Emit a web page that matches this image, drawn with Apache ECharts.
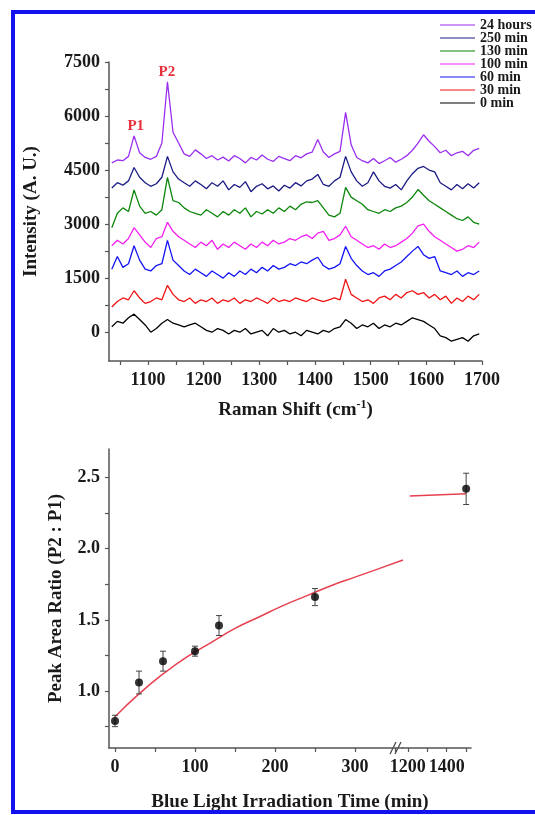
<!DOCTYPE html>
<html>
<head>
<meta charset="utf-8">
<script src="https://cdn.jsdelivr.net/npm/echarts@6/dist/echarts.min.js"></script>
<style>
  html, body { margin: 0; padding: 0; background: #fff; }
  #chart { width: 535px; height: 815px; }
</style>
</head>
<body>
<div id="chart"></div>
<script>
// Raman spectra (top panel), offset traces
const ramanShift = [
  1035, 1045, 1055, 1065, 1075, 1085, 1095, 1105, 1115, 1125,
  1135, 1145, 1155, 1165, 1175, 1185, 1195, 1205, 1215, 1225,
  1235, 1245, 1255, 1265, 1275, 1285, 1295, 1305, 1315, 1325,
  1335, 1345, 1355, 1365, 1375, 1385, 1395, 1405, 1415, 1425,
  1435, 1445, 1455, 1465, 1475, 1485, 1495, 1505, 1515, 1525,
  1535, 1545, 1555, 1565, 1575, 1585, 1595, 1605, 1615, 1625,
  1635, 1645, 1655, 1665, 1675, 1685, 1695
];
const int24h = [
  4700, 4780, 4760, 4880, 5450, 4980, 4850, 4800, 4880, 5250,
  6950, 5550, 5250, 4950, 4880, 5060, 4950, 4820, 4900, 4780,
  4860, 4750, 4900, 4820, 4700, 4850, 4780, 4920, 4800, 4740,
  4880, 4820, 4760, 4900, 4840, 4950, 5000, 5350, 5000, 4850,
  4950, 5020, 6100, 5200, 4850, 4760, 4700, 4820, 4680, 4760,
  4850, 4720, 4800, 4900, 5050, 5250, 5480, 5300, 5150, 4980,
  5050, 4900, 4980, 5020, 4900, 5050, 5100
];
const int250 = [
  4000, 4150, 4080, 4200, 4570, 4300, 4150, 4050, 4120, 4300,
  4880, 4450, 4250, 4150, 4050, 4200, 4100, 3980, 4150, 4050,
  4200, 3950, 4100, 4020, 4180, 3900, 4050, 4120, 3980, 4060,
  3920, 4080, 4000, 4150, 4060, 4200, 4250, 4380, 4100, 4050,
  4200, 4300, 4880, 4450, 4200, 4050, 4150, 4450, 4200, 4050,
  4000, 4100, 3950, 4200, 4400, 4550, 4600, 4500, 4450, 4150,
  4050, 3950, 4100, 3980, 4120, 4000, 4150
];
const int130 = [
  2900, 3300, 3450, 3350, 3950, 3500, 3300, 3350, 3250, 3400,
  4300, 3650, 3600, 3450, 3350, 3300, 3250, 3400, 3300, 3200,
  3350, 3250, 3400, 3300, 3450, 3200, 3350, 3280, 3400, 3300,
  3450, 3350, 3500, 3400, 3550, 3620, 3600, 3650, 3450, 3250,
  3200, 3300, 4020, 3750, 3650, 3550, 3400, 3350, 3300, 3400,
  3350, 3450, 3500, 3600, 3750, 3960, 3800, 3650, 3550, 3450,
  3350, 3250, 3150, 3100, 3200, 3050, 3000
];
const int100 = [
  2400, 2550, 2450, 2600, 2900, 2700, 2500, 2350, 2600, 2650,
  3050, 2800, 2650, 2550, 2450, 2350, 2500, 2400, 2550, 2300,
  2450, 2350, 2500, 2400, 2300, 2450, 2350, 2500, 2400, 2550,
  2450, 2500, 2600, 2550, 2650, 2700, 2600, 2750, 2800, 2550,
  2600, 2700, 2940, 2650, 2550, 2450, 2350, 2400, 2300, 2450,
  2350, 2400, 2500, 2600, 2750, 2950, 3000, 2800, 2650, 2550,
  2450, 2350, 2250, 2300, 2400, 2350, 2500
];
const int60 = [
  1750, 2100, 1800, 1900, 2400, 2000, 1750, 1700, 1850, 1900,
  2550, 2000, 1850, 1700, 1600, 1750, 1650, 1550, 1700, 1600,
  1500, 1650, 1550, 1700, 1600, 1750, 1650, 1800, 1700, 1850,
  1750, 1800, 1900, 1850, 1950, 1900, 2000, 2080, 1850, 1750,
  1800, 1900, 2380, 2050, 1850, 1700, 1600, 1650, 1550, 1700,
  1750, 1850, 1950, 2100, 2250, 2380, 2150, 2050, 2100, 1700,
  1650, 1600, 1700, 1550, 1650, 1600, 1700
];
const int30 = [
  700, 850, 950, 900, 1150, 950, 800, 850, 950, 900,
  1300, 1050, 900, 850, 950, 800, 900, 850, 950, 800,
  900, 850, 950, 800, 900, 850, 950, 880, 800, 950,
  850, 900, 850, 950, 900, 850, 950, 900, 850, 900,
  950, 900, 1470, 1050, 950, 850, 900, 800, 950, 1000,
  900, 1050, 950, 1100, 1150, 1050, 1100, 950, 1050, 900,
  1000, 800, 950, 850, 1000, 900, 1050
];
const int0 = [
  150, 300, 250, 400, 500, 350, 200, 0, 100, 250,
  350, 250, 200, 150, 200, 250, 150, 50, 0, 100,
  50, -50, 50, 0, 100, -50, 0, 50, -100, 100,
  0, 50, -50, 0, -100, 50, 0, -50, 50, 0,
  100, 150, 350, 250, 100, 200, 150, 250, 100, 200,
  150, 250, 200, 300, 400, 350, 300, 200, 100, -100,
  -150, -250, -200, -150, -250, -100, -50
];
const traceNames = ['24 hours', '250 min', '130 min', '100 min', '60 min', '30 min', '0 min'];
const traceValues = [int24h, int250, int130, int100, int60, int30, int0];
const traceColors = ['#9a2ff0', '#1c1c86', '#0b860b', '#f21ef2', '#1414f5', '#f01414', '#000000'];
const ramanLabels = [1100, 1200, 1300, 1400, 1500, 1600, 1700];
const ramanTicks = [1050, 1100, 1150, 1200, 1250, 1300, 1350, 1400, 1450, 1500, 1550, 1600, 1650, 1700];
const intensityLabels = [0, 1500, 3000, 4500, 6000, 7500];
const intensityTicks = [0, 750, 1500, 2250, 3000, 3750, 4500, 5250, 6000, 6750, 7500];

// Peak area ratio (bottom panel)
const timeMin = [0, 30, 60, 100, 130, 250];
const ratio = [0.79, 1.06, 1.21, 1.28, 1.46, 1.66];
const ratioErr = [0.04, 0.08, 0.07, 0.035, 0.07, 0.06];
const time24h = [1500];
const ratio24h = [2.42];
const ratioErr24h = [0.11];
const fitTime = [0, 30, 60, 90, 120, 150, 180, 210, 240, 270, 300, 330, 360];
const fitRatio = [0.82, 0.98, 1.12, 1.24, 1.34, 1.44, 1.52, 1.60, 1.67, 1.74, 1.80, 1.86, 1.92];
const fit24hTime = [1210, 1500];
const fit24hRatio = [2.37, 2.385];
const timeLabelsLeft = [0, 100, 200, 300];
const timeTicksLeft = [0, 50, 100, 150, 200, 250, 300, 350];
const timeLabelsRight = [1200, 1400];
const timeTicksRight = [1200, 1300, 1400, 1500];
const ratioLabels = [1.0, 1.5, 2.0, 2.5];
const ratioTicks = [0.75, 1.0, 1.25, 1.5, 1.75, 2.0, 2.25, 2.5];

const serif = "'Liberation Serif', 'Times New Roman', serif";
const axisColor = '#555';
const textColor = '#1a1a1a';
const fitColor = '#e6414e';

function plain(v) { return String(v); }

function axisBase(gridIndex, min, max, ticks, labels, formatter) {
  return {
    type: 'value',
    gridIndex: gridIndex,
    min: min,
    max: max,
    axisLine: { show: true, onZero: false, lineStyle: { color: axisColor, width: 1.5 } },
    axisTick: { show: true, inside: false, length: 4, customValues: ticks, lineStyle: { color: axisColor, width: 1.2 } },
    axisLabel: {
      customValues: labels, formatter: formatter || plain,
      fontFamily: serif, fontWeight: 'bold', fontSize: 18, color: textColor, margin: 9
    },
    splitLine: { show: false },
    nameTextStyle: { fontFamily: serif, fontWeight: 'bold', fontSize: 19, color: textColor }
  };
}

function errorBarItem(params, api) {
  const x = api.value(0);
  const hi = api.coord([x, api.value(1) + api.value(2)]);
  const lo = api.coord([x, api.value(1) - api.value(2)]);
  const cap = 3;
  const style = { stroke: '#444', lineWidth: 1 };
  return {
    type: 'group',
    children: [
      { type: 'line', shape: { x1: hi[0], y1: hi[1], x2: lo[0], y2: lo[1] }, style: style },
      { type: 'line', shape: { x1: hi[0] - cap, y1: hi[1], x2: hi[0] + cap, y2: hi[1] }, style: style },
      { type: 'line', shape: { x1: lo[0] - cap, y1: lo[1], x2: lo[0] + cap, y2: lo[1] }, style: style }
    ]
  };
}

const chart = echarts.init(document.getElementById('chart'));

const spectraSeries = traceNames.map((name, k) => ({
  name: name,
  type: 'line',
  xAxisIndex: 0,
  yAxisIndex: 0,
  data: ramanShift.map((x, i) => [x, traceValues[k][i]]),
  showSymbol: false,
  symbol: 'none',
  lineStyle: { color: traceColors[k], width: 1.3 },
  itemStyle: { color: traceColors[k] },
  z: 10 - k
}));

// peak labels P1 / P2 on the top trace
spectraSeries[0].markPoint = {
  symbol: 'circle',
  symbolSize: 1,
  itemStyle: { color: 'rgba(0,0,0,0)' },
  label: {
    show: true, position: 'inside', fontFamily: serif, fontWeight: 'bold',
    fontSize: 15, color: '#e8303a', formatter: (p) => p.name
  },
  data: [
    { name: 'P1', coord: [1078, 5720] },
    { name: 'P2', coord: [1134, 7230] }
  ]
};

const xRaman = axisBase(0, 1030, 1700, ramanTicks, ramanLabels);
xRaman.axisLabel.margin = 10;
xRaman.name = '{a|Raman Shift (cm}{s|-1}{a|)}';
xRaman.nameLocation = 'middle';
xRaman.nameGap = 38;
xRaman.nameTextStyle = {
  rich: {
    a: { fontFamily: serif, fontWeight: 'bold', fontSize: 19, color: textColor },
    s: { fontFamily: serif, fontWeight: 'bold', fontSize: 12, color: textColor, verticalAlign: 'top', padding: [0, 0, 10, 0] }
  }
};

const xTimeLeft = axisBase(1, -7.5, 360, timeTicksLeft, timeLabelsLeft);
xTimeLeft.axisLabel.margin = 10;
const xTimeRight = axisBase(2, 1175, 1525, timeTicksRight, timeLabelsRight);
xTimeRight.axisLabel.margin = 10;

const yIntensity = axisBase(0, -800, 7500, intensityTicks, intensityLabels);
yIntensity.name = 'Intensity (A. U.)';
yIntensity.nameLocation = 'middle';
yIntensity.nameGap = 68;

const yRatio = axisBase(1, 0.6, 2.7, ratioTicks, ratioLabels, (v) => Number(v).toFixed(1));
yRatio.name = 'Peak Area Ratio (P2 : P1)';
yRatio.nameLocation = 'middle';
yRatio.nameGap = 43;

const option = {
  backgroundColor: '#fff',
  animation: false,
  grid: [
    { left: 109, top: 62, width: 373, height: 299 },
    { left: 109, top: 449, width: 294, height: 299 },
    { left: 403, top: 449, width: 68, height: 299 }
  ],
  legend: {
    orient: 'vertical',
    left: 440,
    top: 18,
    padding: 0,
    itemWidth: 35,
    itemHeight: 10,
    itemGap: -1,
    icon: 'path://M0,0H40V1H0Z',
    data: traceNames,
    selectedMode: false,
    textStyle: { fontFamily: serif, fontWeight: 'bold', fontSize: 14, color: textColor }
  },
  xAxis: [xRaman, xTimeLeft, xTimeRight],
  yAxis: [yIntensity, yRatio, { type: 'value', gridIndex: 2, min: 0.6, max: 2.7, show: false }],
  graphic: [
    {
      type: 'rect', silent: true, z: 100,
      shape: { x: 13, y: 12, width: 560, height: 800 },
      style: { fill: 'none', stroke: '#1212ee', lineWidth: 4 }
    },
    {
      type: 'group', z: 100, silent: true,
      children: [
        { type: 'rect', shape: { x: 393, y: 745, width: 7, height: 6 }, style: { fill: '#fff' } },
        { type: 'line', shape: { x1: 390, y1: 754, x2: 396, y2: 742 }, style: { stroke: '#444', lineWidth: 1.2 } },
        { type: 'line', shape: { x1: 395, y1: 754, x2: 401, y2: 742 }, style: { stroke: '#444', lineWidth: 1.2 } }
      ]
    },
    {
      type: 'text', silent: true,
      x: 290, y: 802,
      style: {
        text: 'Blue Light Irradiation Time (min)',
        fontFamily: serif, fontWeight: 'bold', fontSize: 19, fill: textColor,
        align: 'center', verticalAlign: 'middle'
      }
    }
  ],
  series: spectraSeries.concat([
    {
      name: 'fit',
      type: 'line',
      xAxisIndex: 1, yAxisIndex: 1,
      data: fitTime.map((t, i) => [t, fitRatio[i]]),
      smooth: true,
      symbol: 'none',
      lineStyle: { color: fitColor, width: 1.5 },
      z: 2
    },
    {
      name: 'fit24h',
      type: 'line',
      xAxisIndex: 2, yAxisIndex: 2,
      data: fit24hTime.map((t, i) => [t, fit24hRatio[i]]),
      symbol: 'none',
      lineStyle: { color: fitColor, width: 1.5 },
      z: 2
    },
    {
      name: 'err',
      type: 'custom',
      xAxisIndex: 1, yAxisIndex: 1,
      renderItem: errorBarItem,
      encode: { x: 0, y: 1 },
      data: timeMin.map((t, i) => [t, ratio[i], ratioErr[i]]),
      z: 3
    },
    {
      name: 'err24h',
      type: 'custom',
      xAxisIndex: 2, yAxisIndex: 2,
      renderItem: errorBarItem,
      encode: { x: 0, y: 1 },
      data: time24h.map((t, i) => [t, ratio24h[i], ratioErr24h[i]]),
      z: 3
    },
    {
      name: 'ratio',
      type: 'scatter',
      xAxisIndex: 1, yAxisIndex: 1,
      data: timeMin.map((t, i) => [t, ratio[i]]),
      symbolSize: 8,
      itemStyle: { color: '#000' },
      z: 4
    },
    {
      name: 'ratio24h',
      type: 'scatter',
      xAxisIndex: 2, yAxisIndex: 2,
      data: time24h.map((t, i) => [t, ratio24h[i]]),
      symbolSize: 8,
      itemStyle: { color: '#000' },
      z: 4
    }
  ])
};

chart.setOption(option);
</script>
</body>
</html>
